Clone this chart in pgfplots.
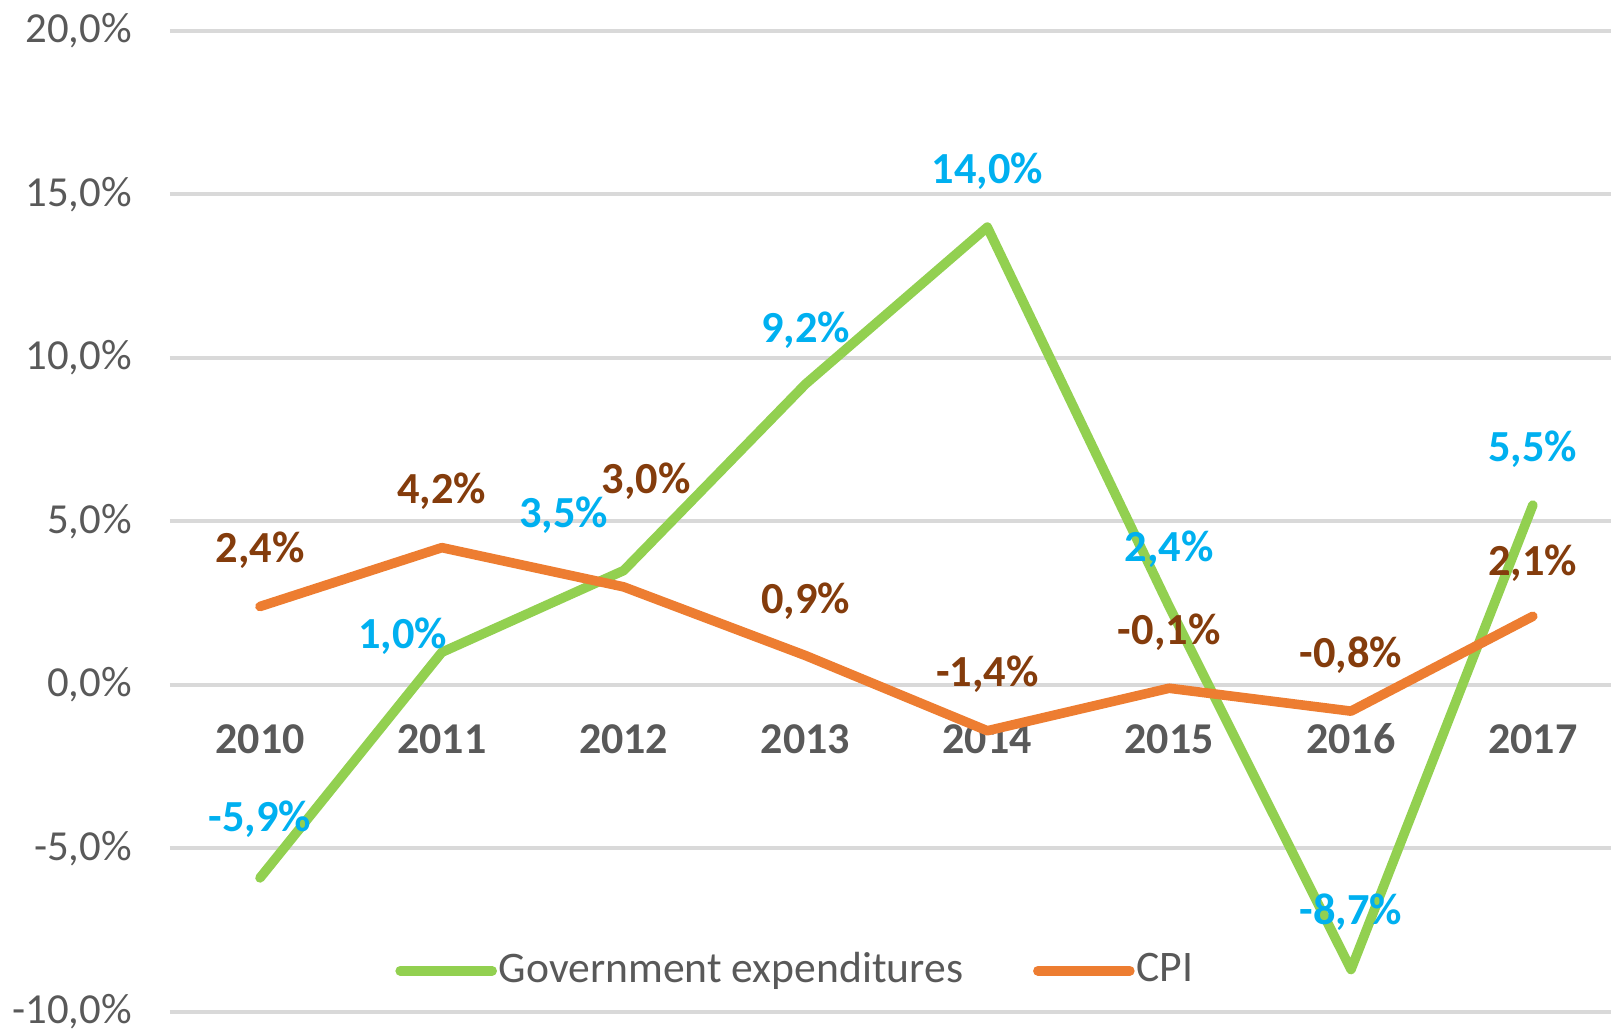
\documentclass[border=0pt]{standalone}
\usepackage{fontspec}
\setmainfont{Carlito}
\usepackage{pgfplots}
\usepackage{pgfplotstable}
\pgfplotsset{compat=1.18}
\definecolor{govgreen}{RGB}{146,208,80}
\definecolor{cpiorange}{RGB}{237,125,49}
\definecolor{labblue}{RGB}{0,176,240}
\definecolor{labbrown}{RGB}{132,60,12}
\definecolor{txtgray}{RGB}{89,89,89}
\definecolor{gridgray}{RGB}{217,217,217}

% label offsets (pt) per point: dx, dy
\pgfplotstableread{
year gov gdx gdy cpi cdx cdy
2010 -5.9 0 14.6 2.4 0 14.1
2011 1.0 -9.8 4 4.2 0 14.1
2012 3.5 -15 13.9 3.0 5.6 26.5
2013 9.2 0 13.4 0.9 0 13.6
2014 14.0 0 14 -1.4 0 14.1
2015 2.4 0 14.4 -0.1 0 14.1
2016 -8.7 0 14.4 -0.8 0 14.1
2017 5.5 0 14.1 2.1 0 13.4
}\datatable

\begin{document}
\begin{tikzpicture}
\begin{axis}[
  scale only axis,
  width=360.25pt, height=245.25pt,
  xmin=2009.505, xmax=2017.43,
  ymin=-10, ymax=20,
  ytick={-10,-5,0,5,10,15,20},
  xtick={2010,...,2017},
  axis x line*=middle, axis y line*=left,
  axis line style={draw=none},
  tick style={draw=none},
  ymajorgrids, grid style={gridgray, line width=1pt},
  /pgf/number format/assume math mode=true,
  /pgf/number format/1000 sep={},
  yticklabel={\pgfmathprintnumber[fixed,fixed zerofill,precision=1,use comma]{\tick}\%},
  yticklabel style={font=\fontsize{10.7}{12}\selectfont, text=txtgray, xshift=-6pt},
  xticklabel={\strut\pgfmathprintnumber{\tick}},
  xticklabel style={font=\fontsize{11}{13}\selectfont\bfseries, text=txtgray, anchor=north, yshift=-4.6pt},
  legend style={at={(0.434,0.042)}, anchor=center, draw=none, fill=none,
    legend columns=2, font=\fontsize{10.9}{13}\selectfont, text=txtgray,
    nodes={inner sep=0.5pt},
    /tikz/every even column/.append style={column sep=17pt}},
  legend image code/.code={\draw[#1, line cap=round] (0pt,0pt) -- (23pt,0pt);},
  every node near coord/.append style={font=\fontsize{11.1}{13}\selectfont\bfseries},
]
\coordinate (bl) at (rel axis cs:0,0);
\coordinate (tr) at (rel axis cs:1,1);

% data labels
\addplot[draw=none, forget plot, point meta=explicit,
  nodes near coords={\pgfmathprintnumber[fixed,fixed zerofill,precision=1,use comma]{\pgfplotspointmeta}\%},
  nodes near coords align={anchor=center},
  visualization depends on={\thisrow{gdx} \as \dx},
  visualization depends on={\thisrow{gdy} \as \dy},
  every node near coord/.append style={xshift=\dx pt, yshift=\dy pt, text=labblue}]
  table[x=year, y=gov, meta=gov] {\datatable};
\addplot[draw=none, forget plot, point meta=explicit,
  nodes near coords={\pgfmathprintnumber[fixed,fixed zerofill,precision=1,use comma]{\pgfplotspointmeta}\%},
  nodes near coords align={anchor=center},
  visualization depends on={\thisrow{cdx} \as \dx},
  visualization depends on={\thisrow{cdy} \as \dy},
  every node near coord/.append style={xshift=\dx pt, yshift=\dy pt, text=labbrown}]
  table[x=year, y=cpi, meta=cpi] {\datatable};

% lines
\addplot[govgreen, line width=2.4pt, line join=round, line cap=round, mark=none]
  table[x=year, y=gov] {\datatable};
\addlegendentry{Government expenditures}
\addplot[cpiorange, line width=2.4pt, line join=round, line cap=round, mark=none]
  table[x=year, y=cpi] {\datatable};
\addlegendentry{CPI}
\end{axis}
\pgfresetboundingbox
\path ([xshift=-42.5pt,yshift=-4.5pt]bl) rectangle ([yshift=7.75pt]tr);
\end{tikzpicture}
\end{document}
